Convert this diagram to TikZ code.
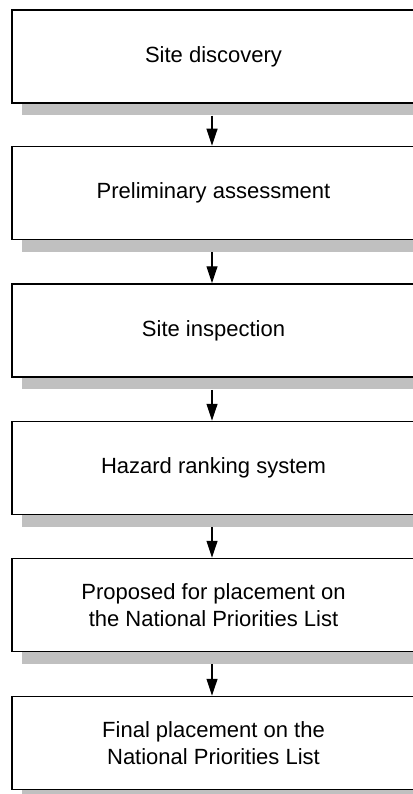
\documentclass[tikz,border=0pt]{standalone}
\usepackage{fontspec}
\setmainfont{Liberation Sans}
\usetikzlibrary{arrows, arrows.meta}
\usetikzlibrary{calc}
\usetikzlibrary{shadows}
\definecolor{shadowgray}{RGB}{192,192,192}

\begin{document}
\begin{tikzpicture}[x=1pt, y=-1pt,
    stage/.style={rectangle, draw, line width=1.5pt, fill=white, minimum width=403pt, minimum height=93pt, inner sep=0pt, align=center, font=\fontsize{22}{26.5}\selectfont, general shadow={fill=shadowgray, shadow xshift=10pt, shadow yshift=-12pt}},
    flow/.style={-{Triangle[length=17pt, width=11pt]}, line width=1.2pt}]
    \useasboundingbox (0,0) rectangle (412,794);

    \node[stage] (discovery) at (213.5, 56.5) {Site discovery};
    \node[stage] (assessment) at (213.5, 193) {Preliminary assessment};
    \node[stage] (inspection) at (213.5, 330.5) {Site inspection};
    \node[stage] (ranking) at (213.5, 468) {Hazard ranking system};
    \node[stage] (proposed) at (213.5, 605) {Proposed for placement on\\the National Priorities List};
    \node[stage] (final) at (213.5, 743) {Final placement on the\\National Priorities List};

    \draw[flow] ([xshift=-1.5pt, yshift=-12pt]discovery.south) -- ([xshift=-1.5pt]assessment.north);
    \draw[flow] ([xshift=-1.5pt, yshift=-12pt]assessment.south) -- ([xshift=-1.5pt]inspection.north);
    \draw[flow] ([xshift=-1.5pt, yshift=-12pt]inspection.south) -- ([xshift=-1.5pt]ranking.north);
    \draw[flow] ([xshift=-1.5pt, yshift=-12pt]ranking.south) -- ([xshift=-1.5pt]proposed.north);
    \draw[flow] ([xshift=-1.5pt, yshift=-12pt]proposed.south) -- ([xshift=-1.5pt]final.north);
  \end{tikzpicture}
\end{document}
